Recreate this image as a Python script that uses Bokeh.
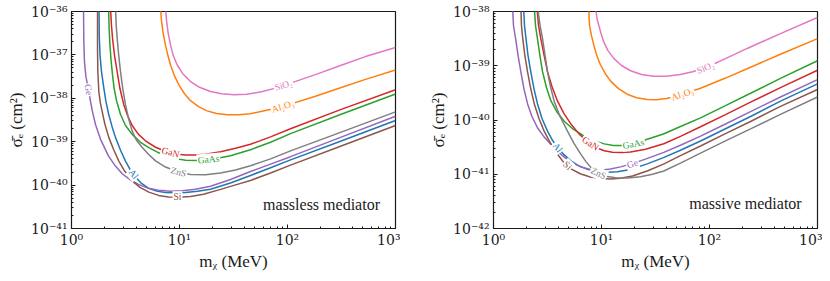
import numpy as np
from bokeh.plotting import figure
from bokeh.layouts import row
from bokeh.models import FixedTicker, CustomJSTickFormatter, Range1d, Label
from bokeh.core.properties import value
from bokeh.embed import file_html
from bokeh.resources import INLINE

materials = ["Al", "Al2O3", "GaAs", "GaN", "Ge", "Si", "SiO2", "ZnS"]
colors = {"Al": "#1f77b4", "Al2O3": "#ff7f0e", "GaAs": "#2ca02c", "GaN": "#d62728",
          "Ge": "#9467bd", "Si": "#8c564b", "SiO2": "#e377c2", "ZnS": "#7f7f7f"}

# Values are log10(m_chi / MeV) and log10(sigma_e / cm^2).
# ---------------- massless mediator (left) ----------------
left_Al_logm = [0.255, 0.257, 0.264, 0.278, 0.299, 0.319, 0.345, 0.375, 0.407, 0.454, 0.500, 0.546, 0.593, 0.648, 0.716, 0.787, 0.870, 0.963, 1.056, 1.167, 1.287, 1.472, 1.657, 1.843, 2.028, 2.491, 3.0]
left_Al_logs = [-35.9, -36.548, -37.005, -37.393, -37.758, -38.078, -38.374, -38.648, -38.900, -39.196, -39.447, -39.653, -39.813, -39.961, -40.075, -40.139, -40.169, -40.178, -40.169, -40.144, -40.094, -39.950, -39.779, -39.600, -39.418, -38.991, -38.511]
left_Al2O3_logm = [0.824, 0.833, 0.847, 0.870, 0.894, 0.917, 0.954, 0.994, 1.046, 1.102, 1.176, 1.256, 1.343, 1.442, 1.546, 1.657, 1.796, 1.935, 2.028, 2.259, 2.491, 2.722, 3.0]
left_Al2O3_logs = [-35.9, -36.205, -36.479, -36.776, -37.027, -37.233, -37.484, -37.689, -37.895, -38.055, -38.192, -38.290, -38.352, -38.379, -38.381, -38.356, -38.283, -38.208, -38.135, -37.952, -37.758, -37.564, -37.347]
left_GaAs_logm = [0.343, 0.349, 0.356, 0.366, 0.380, 0.394, 0.417, 0.454, 0.500, 0.562, 0.639, 0.716, 0.796, 0.870, 0.963, 1.056, 1.176, 1.306, 1.472, 1.657, 1.843, 2.028, 2.491, 3.0]
left_GaAs_logs = [-35.9, -36.434, -36.776, -37.119, -37.461, -37.758, -38.055, -38.374, -38.626, -38.831, -39.014, -39.135, -39.242, -39.322, -39.390, -39.425, -39.432, -39.402, -39.322, -39.185, -39.014, -38.815, -38.374, -37.902]
left_GaN_logm = [0.361, 0.370, 0.380, 0.398, 0.423, 0.449, 0.484, 0.519, 0.562, 0.620, 0.685, 0.778, 0.870, 0.963, 1.056, 1.148, 1.241, 1.380, 1.519, 1.657, 1.843, 2.028, 2.491, 3.0]
left_GaN_logs = [-35.9, -36.320, -36.616, -37.005, -37.393, -37.781, -38.146, -38.397, -38.626, -38.831, -38.979, -39.128, -39.219, -39.283, -39.306, -39.306, -39.288, -39.231, -39.151, -39.059, -38.888, -38.701, -38.260, -37.804]
left_Ge_logm = [0.111, 0.114, 0.120, 0.134, 0.157, 0.190, 0.222, 0.269, 0.343, 0.407, 0.472, 0.546, 0.620, 0.713, 0.806, 0.917, 1.028, 1.148, 1.287, 1.472, 1.657, 1.843, 2.028, 2.491, 3.0]
left_Ge_logs = [-35.9, -36.662, -37.164, -37.507, -37.804, -38.260, -38.603, -38.945, -39.333, -39.562, -39.744, -39.881, -39.984, -40.075, -40.121, -40.139, -40.132, -40.098, -40.025, -39.870, -39.687, -39.516, -39.345, -38.900, -38.413]
left_Si_logm = [0.241, 0.241, 0.244, 0.253, 0.267, 0.284, 0.310, 0.345, 0.389, 0.438, 0.495, 0.562, 0.634, 0.716, 0.806, 0.898, 0.991, 1.102, 1.222, 1.380, 1.519, 1.657, 1.843, 2.028, 2.491, 3.0]
left_Si_logs = [-35.9, -36.890, -37.393, -37.849, -38.100, -38.306, -38.603, -38.900, -39.174, -39.447, -39.687, -39.904, -40.053, -40.162, -40.237, -40.274, -40.281, -40.265, -40.212, -40.098, -39.995, -39.893, -39.721, -39.539, -39.105, -38.626]
left_SiO2_logm = [0.870, 0.880, 0.894, 0.917, 0.944, 0.979, 1.028, 1.102, 1.185, 1.287, 1.389, 1.503, 1.620, 1.750, 1.889, 2.028, 2.259, 2.491, 2.722, 3.0]
left_SiO2_logs = [-35.9, -36.205, -36.479, -36.776, -37.027, -37.233, -37.427, -37.614, -37.747, -37.842, -37.895, -37.918, -37.906, -37.856, -37.765, -37.651, -37.454, -37.244, -37.039, -36.829]
left_ZnS_logm = [0.407, 0.414, 0.423, 0.437, 0.454, 0.475, 0.500, 0.528, 0.562, 0.602, 0.655, 0.713, 0.778, 0.870, 0.991, 1.102, 1.241, 1.380, 1.519, 1.657, 1.843, 2.028, 2.491, 3.0]
left_ZnS_logs = [-35.9, -36.320, -36.616, -37.005, -37.393, -37.781, -38.146, -38.466, -38.756, -38.968, -39.135, -39.288, -39.441, -39.584, -39.699, -39.756, -39.763, -39.721, -39.653, -39.555, -39.395, -39.212, -38.785, -38.313]

left_label_text = ["Al", "Al₂O₃", "GaAs", "GaN", "Ge", "Si", "SiO₂", "ZnS"]
left_label_logm = [0.574, 1.958, 1.269, 0.917, 0.157, 0.981, 1.963, 0.991]
left_label_logs = [-39.75, -38.19, -39.41, -39.25, -37.804, -40.28, -37.70, -39.699]

# ---------------- massive mediator (right) ----------------
right_Al_logm = [0.278, 0.287, 0.301, 0.319, 0.345, 0.375, 0.407, 0.449, 0.500, 0.546, 0.593, 0.653, 0.716, 0.787, 0.870, 0.963, 1.056, 1.148, 1.269, 1.423, 1.574, 1.731, 1.917, 2.148, 2.380, 2.657, 3.0]
right_Al_logs = [-37.9, -38.256, -38.499, -38.804, -39.109, -39.425, -39.699, -39.973, -40.205, -40.374, -40.508, -40.639, -40.753, -40.840, -40.910, -40.952, -40.964, -40.955, -40.913, -40.809, -40.694, -40.557, -40.387, -40.161, -39.936, -39.653, -39.333]
right_Al2O3_logm = [0.880, 0.889, 0.906, 0.929, 0.958, 0.991, 1.037, 1.083, 1.157, 1.238, 1.324, 1.423, 1.509, 1.602, 1.750, 1.917, 2.148, 2.380, 2.657, 3.0]
right_Al2O3_logs = [-37.9, -38.256, -38.438, -38.621, -38.822, -38.986, -39.151, -39.279, -39.421, -39.525, -39.589, -39.622, -39.626, -39.604, -39.525, -39.416, -39.227, -39.028, -38.789, -38.499]
right_GaAs_logm = [0.377, 0.389, 0.407, 0.429, 0.454, 0.491, 0.531, 0.588, 0.655, 0.741, 0.840, 0.931, 1.025, 1.111, 1.204, 1.296, 1.423, 1.574, 1.731, 1.917, 2.148, 2.380, 2.657, 3.0]
right_GaAs_logs = [-37.9, -38.256, -38.499, -38.804, -39.109, -39.406, -39.644, -39.854, -40.022, -40.174, -40.296, -40.384, -40.440, -40.469, -40.471, -40.444, -40.356, -40.259, -40.119, -39.960, -39.735, -39.507, -39.233, -38.908]
right_GaN_logm = [0.401, 0.417, 0.438, 0.468, 0.500, 0.542, 0.593, 0.653, 0.716, 0.796, 0.886, 0.954, 1.025, 1.102, 1.185, 1.269, 1.407, 1.577, 1.731, 1.917, 2.148, 2.380, 2.657, 3.0]
right_GaN_logs = [-37.9, -38.256, -38.499, -38.804, -39.109, -39.388, -39.653, -39.881, -40.073, -40.265, -40.420, -40.511, -40.566, -40.594, -40.601, -40.588, -40.539, -40.438, -40.301, -40.124, -39.900, -39.671, -39.403, -39.083]
right_Ge_logm = [0.176, 0.185, 0.204, 0.227, 0.253, 0.282, 0.315, 0.356, 0.407, 0.468, 0.531, 0.593, 0.655, 0.727, 0.808, 0.898, 0.991, 1.083, 1.176, 1.269, 1.407, 1.577, 1.731, 1.917, 2.148, 2.380, 2.657, 3.0]
right_Ge_logs = [-37.9, -38.256, -38.493, -38.804, -39.109, -39.425, -39.699, -39.936, -40.142, -40.311, -40.447, -40.575, -40.685, -40.785, -40.864, -40.913, -40.926, -40.904, -40.864, -40.813, -40.721, -40.597, -40.466, -40.296, -40.073, -39.845, -39.576, -39.255]
right_Si_logm = [0.253, 0.259, 0.271, 0.290, 0.315, 0.343, 0.377, 0.421, 0.469, 0.528, 0.593, 0.648, 0.713, 0.808, 0.898, 0.991, 1.083, 1.176, 1.287, 1.423, 1.574, 1.731, 1.917, 2.148, 2.380, 2.657, 3.0]
right_Si_logs = [-37.9, -38.256, -38.499, -38.804, -39.109, -39.406, -39.699, -39.973, -40.205, -40.429, -40.630, -40.776, -40.895, -40.995, -41.050, -41.079, -41.087, -41.074, -41.032, -40.941, -40.813, -40.658, -40.479, -40.252, -40.027, -39.748, -39.437]
right_SiO2_logm = [0.944, 0.958, 0.975, 0.995, 1.021, 1.060, 1.114, 1.185, 1.269, 1.370, 1.484, 1.602, 1.731, 1.843, 1.963, 2.148, 2.349, 2.657, 3.0]
right_SiO2_logs = [-37.9, -38.128, -38.256, -38.402, -38.561, -38.721, -38.864, -38.995, -39.092, -39.160, -39.193, -39.193, -39.163, -39.110, -39.037, -38.868, -38.681, -38.407, -38.110]
right_ZnS_logm = [0.407, 0.431, 0.454, 0.477, 0.500, 0.528, 0.562, 0.616, 0.685, 0.745, 0.808, 0.856, 0.901, 0.963, 1.037, 1.130, 1.241, 1.361, 1.472, 1.577, 1.731, 1.917, 2.148, 2.380, 2.657, 3.0]
right_ZnS_logs = [-37.9, -38.256, -38.499, -38.804, -39.109, -39.388, -39.657, -39.936, -40.205, -40.429, -40.630, -40.767, -40.873, -40.977, -41.037, -41.065, -41.068, -41.045, -41.001, -40.941, -40.795, -40.612, -40.385, -40.164, -39.896, -39.576]

right_label_text = ["Al", "Al₂O₃", "GaAs", "GaN", "Ge", "Si", "SiO₂", "ZnS"]
right_label_logm = [0.593, 1.750, 1.296, 0.898, 1.287, 0.685, 1.963, 0.972]
right_label_logs = [-40.508, -39.525, -40.444, -40.436, -40.81, -40.84, -39.037, -40.985]

x_ticks = [1, 10, 100, 1000]
left_y_ticks = [1e-41, 1e-40, 1e-39, 1e-38, 1e-37, 1e-36]
right_y_ticks = [1e-42, 1e-41, 1e-40, 1e-39, 1e-38]
x_label = "mᵪ (MeV)"
y_label = "σ̄ₑ (cm²)"
left_note = "massless mediator"
right_note = "massive mediator"
left_note_logm, left_note_logs = 2.315, -40.452
right_note_logm, right_note_logs = 2.333, -41.543

# label rotations (degrees, screen)
left_label_angle = [-50, 17, 5, -16, -80, 0, 17, -15]
right_label_angle = [-52, 18, 10, -33, 17, -43, 22, -25]

SERIF = "Liberation Serif"
TICKFONT = "DejaVu Serif"
INK = "#1a1a1a"

fmt = CustomJSTickFormatter(code="""
const e = Math.round(Math.log10(tick));
const sup = {"-":"\u207b","0":"\u2070","1":"\u00b9","2":"\u00b2","3":"\u00b3","4":"\u2074","5":"\u2075","6":"\u2076","7":"\u2077","8":"\u2078","9":"\u2079"};
return "10" + String(e).split("").map(c => sup[c]).join("");
""")


def minor_for(majors):
    return [t * k for t in majors for k in range(2, 10)]


def pw(v):
    return [10.0 ** x for x in v]


def make_panel(data, ymin, ymax, yticks, lab_text, lab_m, lab_s, lab_ang, note, note_m, note_s,
               width, bl, br):
    p = figure(width=width, height=273, x_axis_type="log", y_axis_type="log",
               x_range=Range1d(1, 1000), y_range=Range1d(ymin, ymax),
               output_backend="svg", toolbar_location=None,
               min_border_left=bl, min_border_right=br, min_border_top=11, min_border_bottom=43)
    p.background_fill_color = "white"
    p.border_fill_color = "white"
    p.outline_line_color = INK
    p.outline_line_width = 1.2
    p.grid.visible = False
    for name in materials:
        lm, ls = data[name]
        p.line(pw(lm), pw(ls), line_color=colors[name], line_width=1.5)
    p.text(x=pw(lab_m), y=pw(lab_s), text=lab_text, angle=lab_ang, angle_units="deg",
           text_color=[colors[n] for n in materials], text_font=value(SERIF),
           text_font_size="9.5px", text_align="center", text_baseline="middle",
           background_fill_color="white", padding=1)
    p.add_layout(Label(x=10 ** note_m, y=10 ** note_s, text=note, text_font=SERIF,
                       text_font_size="16px", text_color=INK,
                       text_align="center", text_baseline="middle"))
    p.xaxis.ticker = FixedTicker(ticks=x_ticks, minor_ticks=minor_for(x_ticks[:-1]))
    p.yaxis.ticker = FixedTicker(ticks=yticks, minor_ticks=minor_for(yticks[:-1]))
    p.xaxis.formatter = fmt
    p.yaxis.formatter = fmt
    for ax in (p.xaxis, p.yaxis):
        ax.major_tick_in = 4
        ax.major_tick_out = 0
        ax.minor_tick_in = 2
        ax.minor_tick_out = 0
        ax.axis_line_color = INK
        ax.major_tick_line_color = INK
        ax.minor_tick_line_color = INK
        ax.major_label_text_font = TICKFONT
        ax.major_label_text_font_size = "14px"
        ax.major_label_text_color = INK
        ax.axis_label_text_font = SERIF
        ax.axis_label_text_font_size = "17px"
        ax.axis_label_text_font_style = "normal"
        ax.axis_label_text_color = INK
    p.xaxis.axis_label = x_label
    p.yaxis.axis_label = y_label
    p.xaxis.major_label_standoff = 3
    p.yaxis.major_label_standoff = 4
    p.xaxis.axis_label_standoff = 1
    p.yaxis.axis_label_standoff = 2
    return p


left_data = {
    "Al": (left_Al_logm, left_Al_logs), "Al2O3": (left_Al2O3_logm, left_Al2O3_logs),
    "GaAs": (left_GaAs_logm, left_GaAs_logs), "GaN": (left_GaN_logm, left_GaN_logs),
    "Ge": (left_Ge_logm, left_Ge_logs), "Si": (left_Si_logm, left_Si_logs),
    "SiO2": (left_SiO2_logm, left_SiO2_logs), "ZnS": (left_ZnS_logm, left_ZnS_logs),
}
right_data = {
    "Al": (right_Al_logm, right_Al_logs), "Al2O3": (right_Al2O3_logm, right_Al2O3_logs),
    "GaAs": (right_GaAs_logm, right_GaAs_logs), "GaN": (right_GaN_logm, right_GaN_logs),
    "Ge": (right_Ge_logm, right_Ge_logs), "Si": (right_Si_logm, right_Si_logs),
    "SiO2": (right_SiO2_logm, right_SiO2_logs), "ZnS": (right_ZnS_logm, right_ZnS_logs),
}

p1 = make_panel(left_data, 1e-41, 1e-36, left_y_ticks, left_label_text, left_label_logm,
                left_label_logs, left_label_angle, left_note, left_note_logm, left_note_logs,
                400, 71, 5)
p2 = make_panel(right_data, 1e-42, 1e-38, right_y_ticks, right_label_text, right_label_logm,
                right_label_logs, right_label_angle, right_note, right_note_logm, right_note_logs,
                422, 93, 5)

layout = row(p1, p2)
open("out.html", "w").write(file_html(layout, INLINE))
